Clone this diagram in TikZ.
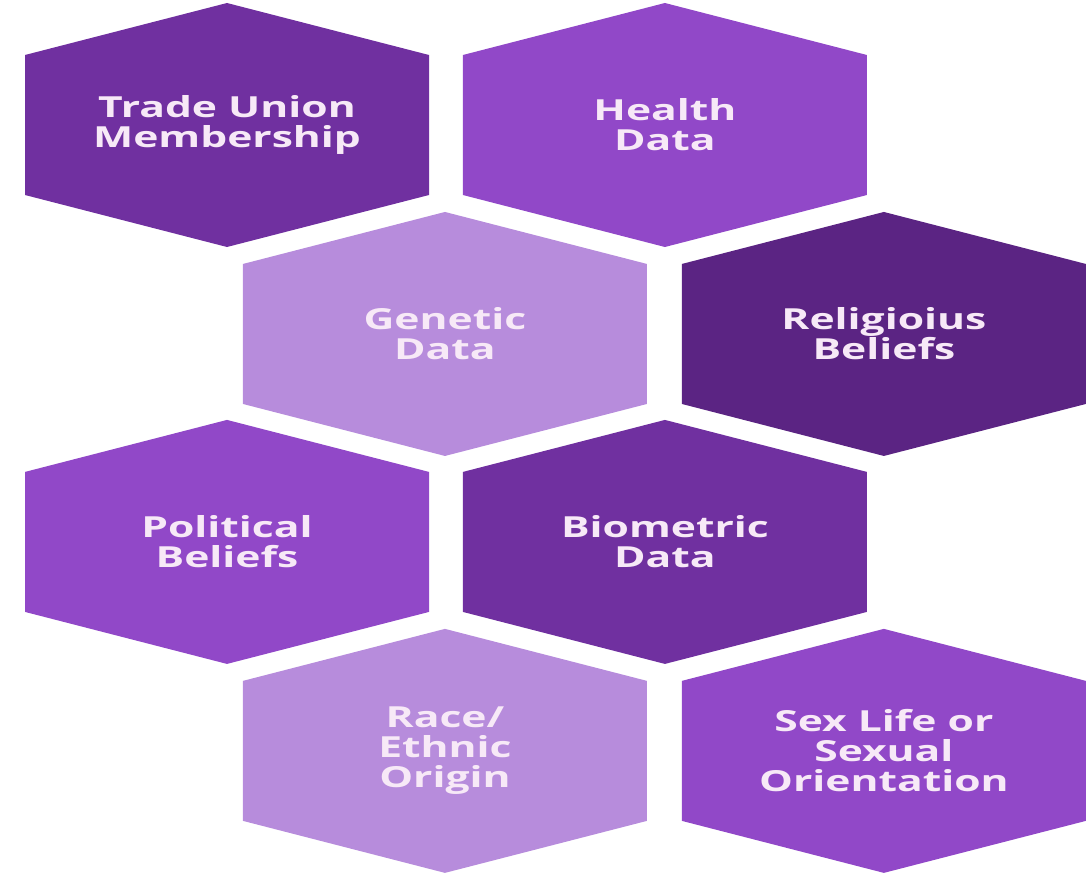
\documentclass[tikz,border=0pt]{standalone}
\usepackage{fontspec}
\usetikzlibrary{positioning,backgrounds}
\newfontfamily\cellfont[FakeStretch=1.47]{Open Sans}
\definecolor{celldark}{HTML}{5B2483}
\definecolor{cellplum}{HTML}{7030A0}
\definecolor{cellmid}{HTML}{9148C8}
\definecolor{celllight}{HTML}{B78CDC}
\definecolor{celltext}{HTML}{F7E9F7}

\begin{document}
\begin{tikzpicture}[x=0.02cm, y=-0.02cm, on grid,
    cell/.style={text=celltext, align=center, font=\cellfont\bfseries\fontsize{16.5}{17}\selectfont}]
    \useasboundingbox (0,0) rectangle (1089,875);
    \node[cell] (trade) at (227,125) {Trade Union\\Membership};
    \node[cell, right=8.76cm of trade] (health) {Health\\Data};
    \node[cell, below right=4.18cm and 4.36cm of trade] (genetic) {Genetic\\Data};
    \node[cell, right=8.78cm of genetic] (religious) {Religioius\\Beliefs};
    \node[cell, below=8.34cm of trade] (political) {Political\\Beliefs};
    \node[cell, right=8.76cm of political] (biometric) {Biometric\\Data};
    \node[cell, below=8.34cm of genetic] (race) {Race/\\Ethnic\\Origin};
    \node[cell, right=8.78cm of race] (sexlife) {Sex Life or\\Sexual\\Orientation};
    \begin{scope}[on background layer]
    \foreach \n/\c in {trade/cellplum, health/cellmid, genetic/celllight, religious/celldark,
                       political/cellmid, biometric/cellplum, race/celllight, sexlife/cellmid}
        \fill[\c, shift={(\n.center)}] (0,-122) -- (202,-70) -- (202,70) -- (0,122) -- (-202,70) -- (-202,-70) -- cycle;
    \end{scope}
\end{tikzpicture}
\end{document}
